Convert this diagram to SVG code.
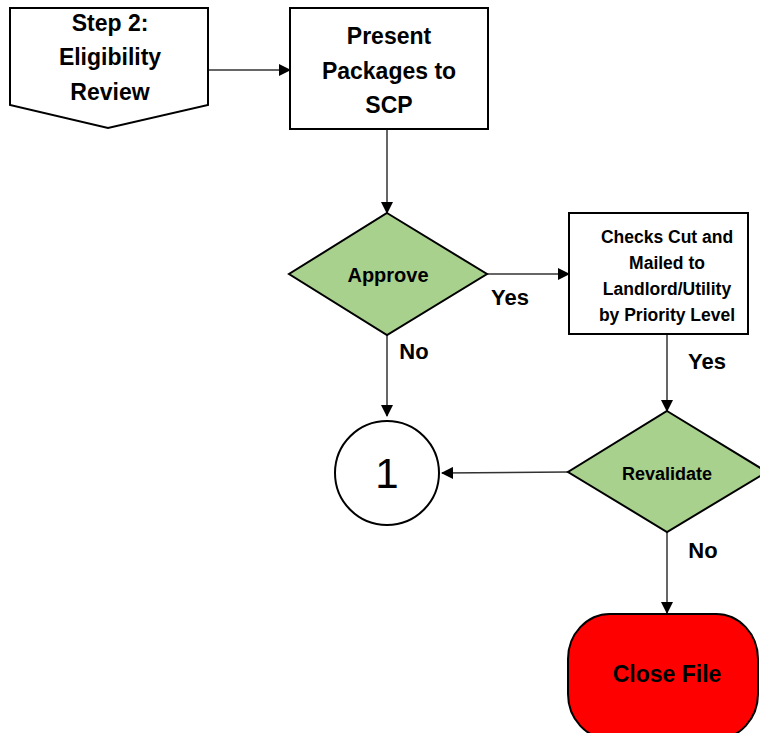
<svg xmlns="http://www.w3.org/2000/svg" width="760" height="733" viewBox="0 0 760 733">
<defs>
<marker id="arr" markerWidth="12" markerHeight="12" refX="11" refY="6" orient="auto" markerUnits="userSpaceOnUse">
<path d="M0,0 L12,6 L0,12 Z" fill="#000"/>
</marker>
<style>
.shape{stroke:#000;stroke-width:2}
.t{font-family:"Liberation Sans",Arial,sans-serif;font-weight:bold;fill:#000;text-anchor:middle}
.conn{stroke:#333;stroke-width:1.5;fill:none;marker-end:url(#arr)}
</style>
</defs>
<rect width="760" height="733" fill="#fff"/>
<g id="connectors">
<line class="conn" x1="208" y1="70" x2="290" y2="70"/>
<line class="conn" x1="387" y1="129" x2="387" y2="213"/>
<line class="conn" x1="487" y1="274" x2="569" y2="274"/>
<line class="conn" x1="387" y1="335" x2="387" y2="416"/>
<line class="conn" x1="667" y1="334" x2="667" y2="411"/>
<line class="conn" x1="568" y1="472" x2="442" y2="473"/>
<line class="conn" x1="667" y1="532" x2="667" y2="613"/>
<text class="t" x="510" y="305" font-size="22">Yes</text>
<text class="t" x="414" y="359" font-size="22">No</text>
<text class="t" x="707" y="369" font-size="22">Yes</text>
<text class="t" x="703" y="558" font-size="22">No</text>
</g>
<g id="step2">
<path class="shape" d="M10,8 L208,8 L208,105 L108,128 L10,105 Z" fill="#fff"/>
<text class="t" x="110" y="31" font-size="23">Step 2:</text>
<text class="t" x="110" y="65" font-size="23">Eligibility</text>
<text class="t" x="110" y="100" font-size="23">Review</text>
</g>
<g id="present">
<rect class="shape" x="290" y="8" width="198" height="121" fill="#fff"/>
<text class="t" x="389" y="44" font-size="23">Present</text>
<text class="t" x="389" y="79" font-size="23">Packages to</text>
<text class="t" x="389" y="113" font-size="23">SCP</text>
</g>
<g id="approve">
<path class="shape" d="M387,213 L487,274 L387,335 L289,274 Z" fill="#A9D18E"/>
<text class="t" x="388" y="282" font-size="20">Approve</text>
</g>
<g id="checks">
<rect class="shape" x="569" y="213" width="179" height="121" fill="#fff"/>
<text class="t" x="667" y="243" font-size="17.5">Checks Cut and</text>
<text class="t" x="667" y="269" font-size="17.5">Mailed to</text>
<text class="t" x="667" y="295" font-size="17.5">Landlord/Utility</text>
<text class="t" x="667" y="321" font-size="17.5">by Priority Level</text>
</g>
<g id="connector1">
<circle class="shape" cx="387" cy="473" r="52" fill="#fff"/>
<text x="387" y="488" font-family="Liberation Sans,Arial,sans-serif" font-size="42" text-anchor="middle">1</text>
</g>
<g id="revalidate">
<path class="shape" d="M667,411 L767,472 L667,532 L568,472 Z" fill="#A9D18E"/>
<text class="t" x="667" y="480" font-size="18">Revalidate</text>
</g>
<g id="closefile">
<rect class="shape" x="568" y="614" width="190" height="125" rx="42" ry="45" fill="#FF0000"/>
<text class="t" x="667" y="682" font-size="23">Close File</text>
</g>
</svg>
